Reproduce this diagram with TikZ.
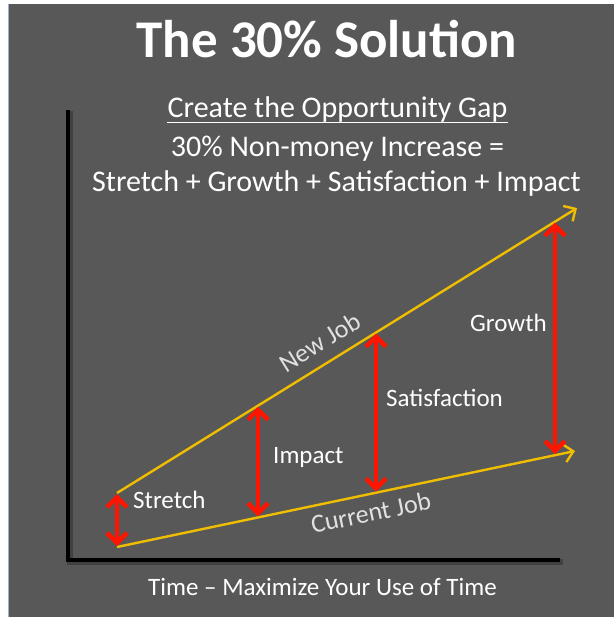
\documentclass[tikz,border=0pt]{standalone}
\usepackage{fontspec}
\setmainfont{Carlito}
\usetikzlibrary{arrows.meta,calc}
\definecolor{panel}{RGB}{88,88,88}
\definecolor{edgeblue}{RGB}{150,180,220}
\definecolor{jobline}{RGB}{240,190,0}
\definecolor{gap}{RGB}{255,20,0}
\definecolor{joblabel}{RGB}{225,225,225}
\tikzset{
  headtext/.style={text=white, inner sep=0pt, anchor=base},
  gaplabel/.style={text=white, inner sep=0pt, anchor=base west, font=\fontsize{25}{30}\selectfont},
  jobtext/.style={text=joblabel, sloped, inner sep=2pt, font=\fontsize{26}{30}\selectfont},
  axis/.style={line width=4pt, black, line cap=rect, line join=miter},
  job/.style={line width=2.4pt, jobline, -{Straight Barb[length=9pt,width=18pt,line width=2.4pt]}},
  gaparrow/.style={line width=4pt, gap, {Straight Barb[length=10pt,width=20pt,line width=4.5pt,line join=miter]}-{Straight Barb[length=10pt,width=20pt,line width=4.5pt,line join=miter]}, shorten <=1pt, shorten >=1pt}
}
\begin{document}
\begin{tikzpicture}[x=1pt,y=-1pt]
  % page and panel
  \useasboundingbox (0,0) rectangle (614,617);
  \fill[white] (0,0) rectangle (614,617);
  \fill[panel] (9,4) rectangle (614,617);
  \draw[edgeblue, line width=0.8pt] (8.6,4) -- (8.6,617);

  % headings
  \node[headtext, font=\bfseries\fontsize{53}{60}\selectfont] (title) at (327,58) {The 30\% Solution};
  \node[headtext, font=\fontsize{30}{36}\selectfont] (gapline) at (337.5,118) {Create the Opportunity Gap};
  \draw[white, line width=1.4pt] ($(gapline.base west)+(0,4.5)$) -- ($(gapline.base east)+(0,4.5)$);
  \node[headtext, font=\fontsize{30}{36}\selectfont] (sumline) at (337.5,157) {30\% Non-money Increase =};
  \node[headtext, font=\fontsize{30}{36}\selectfont] (parts) at (336.5,192) {Stretch + Growth + Satisfaction + Impact};

  % axes with soft shadow
  \coordinate (ytop) at (68,112);
  \coordinate (origin) at (68,560);
  \coordinate (xend) at (558,560);
  \draw[axis, black, opacity=0.25, line width=6pt] ($(ytop)+(2,2)$) -- ($(origin)+(2,2)$) -- ($(xend)+(2,2)$);
  \draw[axis] (ytop) -- (origin) -- (xend);
  \node[headtext, font=\fontsize{25}{30}\selectfont] (timeaxis) at (322.5,595) {Time -- Maximize Your Use of Time};

  % job lines
  \coordinate (nj0) at (117,493);
  \coordinate (nj1) at (577,208);
  \coordinate (cj0) at (117,547);
  \coordinate (cj1) at (575,451);
  \draw[job] (nj0) -- node[jobtext, pos=0.466, above=9pt] (newjob) {New Job} (nj1);
  \draw[job] (cj0) -- node[jobtext, pos=0.546, below=6pt] (curjob) {Current Job} (cj1);

  % gap markers between the lines
  \coordinate (imp0) at (258,405.6);
  \coordinate (imp1) at (258,517.4);
  \coordinate (sat0) at (376,332.5);
  \coordinate (sat1) at (376,492.7);
  \coordinate (gro0) at (555,221.6);
  \coordinate (gro1) at (555,455.2);
  \draw[gaparrow] (nj0) -- (cj0);
  \draw[gaparrow] (imp0) -- (imp1);
  \draw[gaparrow] (sat0) -- (sat1);
  \draw[gaparrow] (gro0) -- (gro1);

  % gap labels
  \node[gaplabel] (stretch) at (133,508) {Stretch};
  \node[gaplabel] (impact) at (273,463) {Impact};
  \node[gaplabel] (satisfaction) at (386,406) {Satisfaction};
  \node[gaplabel] (growth) at (470,331) {Growth};
\end{tikzpicture}
\end{document}
